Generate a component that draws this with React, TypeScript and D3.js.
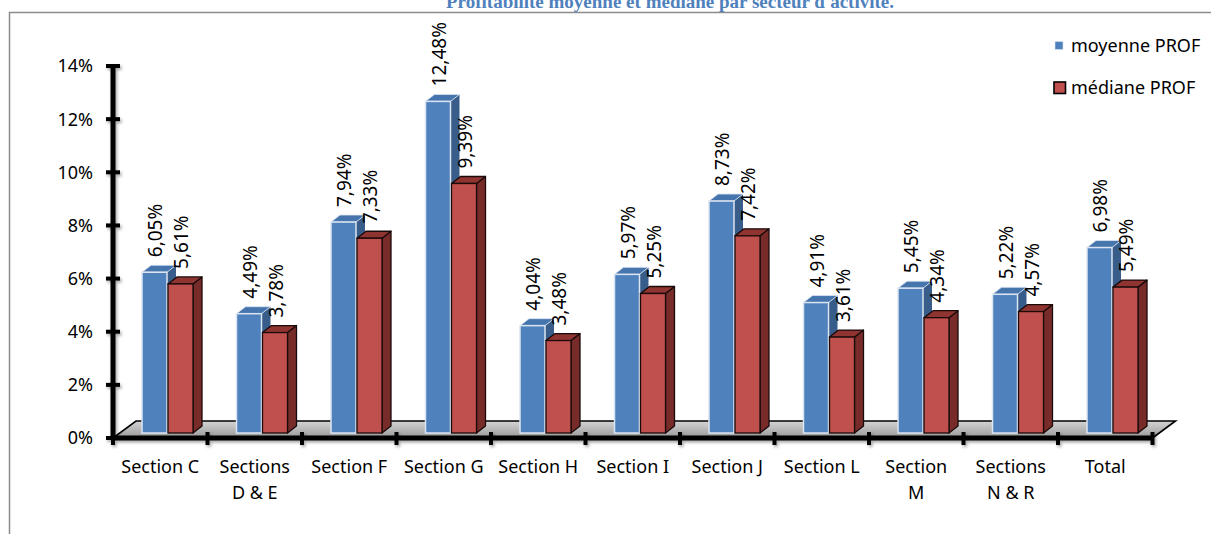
import React from "react";
import * as d3 from "d3";

// Sector categories (multi-line labels split on "\n")
const CATEGORIES = [
  "Section C",
  "Sections\nD & E",
  "Section F",
  "Section G",
  "Section H",
  "Section I",
  "Section J",
  "Section L",
  "Section\nM",
  "Sections\nN & R",
  "Total",
];

// Mean profitability (%)
const MOYENNE = [6.05, 4.49, 7.94, 12.48, 4.04, 5.97, 8.73, 4.91, 5.45, 5.22, 6.98];
// Median profitability (%)
const MEDIANE = [5.61, 3.78, 7.33, 9.39, 3.48, 5.25, 7.42, 3.61, 4.34, 4.57, 5.49];

const Y_TICKS = [0, 2, 4, 6, 8, 10, 12, 14];

const SERIES = [
  { name: "moyenne PROF", values: MOYENNE },
  { name: "médiane PROF", values: MEDIANE },
];

const TITLE = "Profitabilité moyenne et médiane par secteur d'activité.";

const W = 1211;
const H = 534;
const FONT = "'Noto Sans', 'Open Sans', sans-serif";

const fmt = (v: number) => v.toFixed(2).replace(".", ",") + "%";

export default function App() {
  const axisX = 113;
  const x = d3.scaleBand<string>().domain(CATEGORIES).range([axisX, 1152.5]).padding(0);
  const y = d3.scaleLinear().domain([0, 14]).range([438, 66]);

  // front plane of the bars sits slightly behind the axis plane
  const barShiftY = -5;
  const barY = (v: number) => y(v) + barShiftY;
  const base = barY(0);

  // per-bar depth projection
  const ddx = 9;
  const ddy = -7;
  // floor depth projection
  const fdx = 23;
  const fdy = -17;

  const barW = 25;
  const seriesOffset = [29, 55];

  const styles = [
    { front: "#4f81bd", top: "#4675ae", side: "#385d8a", stroke: "#dbe5f1", sw: 1.5 },
    { front: "#c0504d", top: "#8f3431", side: "#772c2a", stroke: "#1a0a0a", sw: 1.3 },
  ];

  const x0 = axisX;
  const x1 = 1152.5;
  const y0 = y(0);

  return (
    <svg
      width={W}
      height={H}
      style={{ position: "absolute", left: 0, top: 0, background: "#fff" }}
      fontFamily={FONT}
    >
      <defs>
        <linearGradient id="floorGrad" x1="0" y1="0" x2="0" y2="1">
          <stop offset="0%" stopColor="#d4d4d4" />
          <stop offset="100%" stopColor="#9a9a9a" />
        </linearGradient>
        <filter id="axisShadow" x="-20%" y="-20%" width="140%" height="140%">
          <feDropShadow dx="1.5" dy="2" stdDeviation="1.8" floodColor="#000" floodOpacity="0.35" />
        </filter>
      </defs>

      {/* chart frame */}
      <rect x={9.5} y={12.5} width={1400} height={700} fill="none" stroke="#8c8c8c" strokeWidth={1.5} />

      {/* title */}
      <text
        x={670}
        y={7.5}
        textAnchor="middle"
        fontFamily="'Liberation Serif', 'Times New Roman', serif"
        fontWeight="bold"
        fontSize={19}
        fill="#4f81bd"
      >
        {TITLE}
      </text>

      {/* floor */}
      <polygon
        points={`${x0},${y0} ${x0 + fdx},${y0 + fdy} ${x1 + fdx},${y0 + fdy} ${x1},${y0}`}
        fill="url(#floorGrad)"
      />
      <polyline
        points={`${x0},${y0} ${x0 + fdx},${y0 + fdy} ${x1 + fdx},${y0 + fdy} ${x1},${y0}`}
        fill="none"
        stroke="#000"
        strokeWidth={1.6}
      />

      {/* bars */}
      {CATEGORIES.map((c, i) => {
        const bx = x(c)!;
        return (
          <g key={c}>
            {SERIES.map((s, si) => {
              const v = s.values[i];
              const st = styles[si];
              const left = bx + seriesOffset[si];
              const right = left + barW;
              const top = barY(v);
              return (
                <g key={s.name}>
                  <polygon
                    points={`${right},${top} ${right + ddx},${top + ddy} ${right + ddx},${base + ddy} ${right},${base}`}
                    fill={st.side}
                    stroke={si === 1 ? st.stroke : "none"}
                    strokeWidth={st.sw}
                    strokeLinejoin="round"
                  />
                  <polygon
                    points={`${left},${top} ${left + ddx},${top + ddy} ${right + ddx},${top + ddy} ${right},${top}`}
                    fill={st.top}
                    stroke={st.stroke}
                    strokeWidth={si === 1 ? st.sw : 0.8}
                    strokeLinejoin="round"
                  />
                  <rect
                    x={left}
                    y={top}
                    width={barW}
                    height={base - top}
                    fill={st.front}
                    stroke={st.stroke}
                    strokeWidth={st.sw}
                  />
                </g>
              );
            })}
          </g>
        );
      })}

      {/* value labels */}
      {CATEGORIES.map((c, i) => {
        const bx = x(c)!;
        return SERIES.map((s, si) => {
          const v = s.values[i];
          const cx = bx + seriesOffset[si] + barW / 2 + 1;
          const ly = barY(v) - 15;
          return (
            <text
              key={c + s.name}
              transform={`translate(${cx},${ly}) rotate(-90)`}
              dy="0.36em"
              fontSize={19}
              fill="#000"
            >
              {fmt(v)}
            </text>
          );
        });
      })}

      {/* axes */}
      <g filter="url(#axisShadow)">
        <line x1={axisX} x2={axisX} y1={y(14) - 2} y2={y0 + 2} stroke="#000" strokeWidth={5} />
        <line x1={axisX - 2} x2={x1 + 1} y1={y0} y2={y0} stroke="#000" strokeWidth={5} />
        {Y_TICKS.map((t) => (
          <line key={t} x1={axisX - 7} x2={axisX + 7} y1={y(t)} y2={y(t)} stroke="#000" strokeWidth={4} />
        ))}
        {d3.range(CATEGORIES.length + 1).map((k) => {
          const tx = k < CATEGORIES.length ? x(CATEGORIES[k])! : x1;
          return <line key={k} x1={tx} x2={tx} y1={y0 - 6} y2={y0 + 7} stroke="#000" strokeWidth={4} />;
        })}
      </g>

      {/* y tick labels */}
      {Y_TICKS.map((t) => (
        <text key={t} x={93} y={y(t)} dy="0.36em" textAnchor="end" fontSize={18} fill="#000">
          {t}%
        </text>
      ))}

      {/* category labels */}
      {CATEGORIES.map((c) => {
        const cx = x(c)! + x.bandwidth() / 2;
        return (
          <text key={c} x={cx} y={473} textAnchor="middle" fontSize={18} fill="#000">
            {c.split("\n").map((line, li) => (
              <tspan key={li} x={cx} dy={li === 0 ? 0 : 26}>
                {line}
              </tspan>
            ))}
          </text>
        );
      })}

      {/* legend */}
      <g>
        <rect x={1055} y={41.5} width={8} height={8} fill="#4f81bd" stroke="#dbe5f1" strokeWidth={0.6} />
        <text x={1071} y={52} fontSize={18} fill="#000">
          {SERIES[0].name}
        </text>
        <rect x={1054} y={82} width={11.5} height={11.5} fill="#c0504d" stroke="#000" strokeWidth={1.6} />
        <text x={1071} y={94} fontSize={18} fill="#000">
          {SERIES[1].name}
        </text>
      </g>
    </svg>
  );
}
